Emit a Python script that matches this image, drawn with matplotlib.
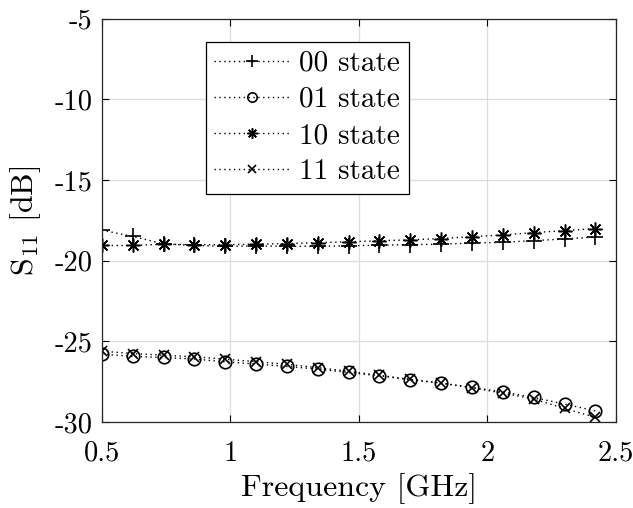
import matplotlib
matplotlib.use("Agg")
import matplotlib.pyplot as plt
import numpy as np

freq = [0.50, 0.62, 0.74, 0.86, 0.98, 1.10, 1.22, 1.34, 1.46, 1.58,
        1.70, 1.82, 1.94, 2.06, 2.18, 2.30, 2.42]
s00 = [-18.10, -18.49, -18.95, -19.05, -19.10, -19.08, -19.10, -19.10, -19.07,
       -19.03, -19.00, -18.97, -18.90, -18.85, -18.75, -18.65, -18.52]
s01 = [-25.78, -25.93, -25.99, -26.09, -26.26, -26.40, -26.55, -26.71, -26.92,
       -27.13, -27.37, -27.58, -27.85, -28.12, -28.47, -28.88, -29.30]
s10 = [-19.05, -19.05, -18.97, -19.00, -19.00, -18.97, -18.93, -18.88, -18.82,
       -18.76, -18.70, -18.62, -18.50, -18.40, -18.25, -18.13, -18.00]
s11 = [-25.60, -25.75, -25.85, -25.95, -26.10, -26.25, -26.42, -26.62, -26.85,
       -27.10, -27.35, -27.58, -27.87, -28.20, -28.57, -29.15, -29.70]
labels = ["00 state", "01 state", "10 state", "11 state"]
xticks = [0.5, 1, 1.5, 2, 2.5]
yticks = [-30, -25, -20, -15, -10, -5]

plt.rcParams['font.family'] = 'cmr10'
plt.rcParams['mathtext.fontset'] = 'cm'
plt.rcParams['axes.unicode_minus'] = False
plt.rcParams['axes.formatter.use_mathtext'] = True

fig = plt.figure(figsize=(6.33, 5.08), dpi=100)
ax = fig.add_axes([0.161, 0.169, 0.812, 0.794])

styles = [dict(marker='+', ms=11, mew=1.2, mfc='none'),
          dict(marker='o', ms=9, mew=1.2, mfc='none'),
          dict(marker=(8, 2, 0), ms=10, mew=1.1, mfc='none'),
          dict(marker='x', ms=7, mew=1.2, mfc='none')]
for ys, lab, st in zip([s00, s01, s10, s11], labels, styles):
    ax.plot(freq, ys, color='black', linestyle=(0, (1, 2.5)), lw=1.0, label=lab, **st)

ax.set_xlim(0.5, 2.5)
ax.set_ylim(-30, -5)
ax.set_xticks(xticks)
ax.set_xticklabels(['0.5', '1', '1.5', '2', '2.5'])
ax.set_yticks(yticks)
ax.set_yticklabels([str(v) for v in yticks])
ax.grid(True, color='#dcdcdc', lw=0.9)
ax.set_axisbelow(True)
ax.tick_params(direction='in', top=True, right=True, labelsize=20.5, length=5, width=0.8, pad=7)
ax.tick_params(axis='x', pad=13)
for sp in ax.spines.values():
    sp.set_linewidth(0.9)
    sp.set_color('#262626')

ax.set_xlabel('Frequency [GHz]', fontsize=23, labelpad=5)
ax.set_ylabel(r'$\mathrm{S}_{11}$ [dB]', fontsize=23, labelpad=8)

leg = ax.legend(loc='upper left', bbox_to_anchor=(0.202, 0.943), fontsize=21,
                frameon=True, fancybox=False, edgecolor='black', framealpha=1,
                handlelength=2.6, markerscale=0.75, numpoints=1,
                borderpad=0.3, labelspacing=0.33, handletextpad=0.3, borderaxespad=0)
leg.get_frame().set_linewidth(0.9)

fig.savefig('out.png', dpi=100)
